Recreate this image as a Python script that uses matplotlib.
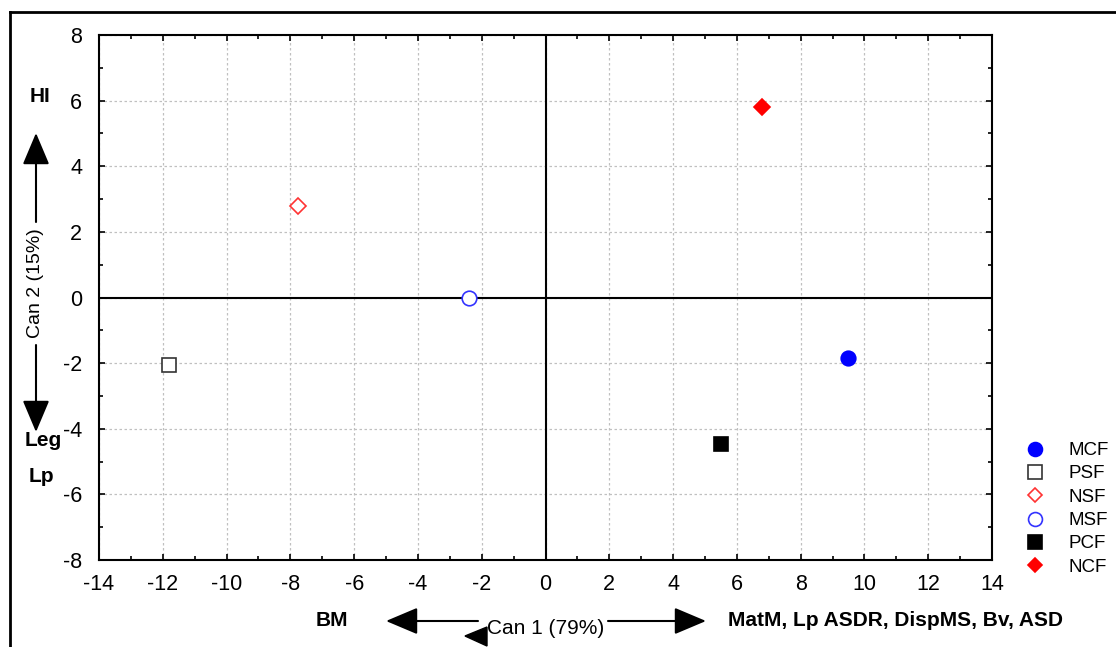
import matplotlib
matplotlib.use("Agg")
import matplotlib.pyplot as plt
from matplotlib.lines import Line2D
from matplotlib.patches import Polygon, FancyArrowPatch

plt.rcParams['font.family'] = ['Liberation Sans', 'DejaVu Sans']
plt.rcParams['axes.unicode_minus'] = False

groups = ["MCF", "PSF", "NSF", "MSF", "PCF", "NCF"]
can1 = [9.5, -11.8, -7.75, -2.4, 5.5, 6.8]
can2 = [-1.85, -2.05, 2.78, 0.0, -4.45, 5.82]
markers = ["o", "s", "D", "o", "s", "D"]
facecolors = ["#0000ff", "white", "white", "white", "black", "#ff0000"]
edgecolors = ["#0000ff", "#333333", "#ff3333", "#3333ff", "black", "#ff0000"]
sizes = [10.5, 10.5, 8, 10.5, 10.5, 8]
xticks = list(range(-14, 15, 2))
yticks = list(range(-8, 9, 2))

W, H = 1116, 647
fig = plt.figure(figsize=(W / 100, H / 100), dpi=100)

def fx(x):
    return x / W

def fy(y):
    return 1 - y / H

ax = fig.add_axes([fx(99), fy(560), fx(992) - fx(99), fy(35) - fy(560)])
ax.set_xlim(-14, 14)
ax.set_ylim(-8, 8)
ax.set_xticks(xticks)
ax.set_yticks(yticks)
ax.set_xticks(range(-14, 15), minor=True)
ax.set_yticks(range(-8, 9), minor=True)
ax.tick_params(which='both', direction='in', top=True, right=True, labelsize=15.5)
ax.tick_params(axis='x', pad=10)
ax.tick_params(axis='y', pad=12)
ax.tick_params(which='major', length=4, width=1.2)
ax.tick_params(which='minor', length=3, width=1.2)
ax.grid(True, which='major', linestyle=(0, (2, 2)), color='#c0c0c0', linewidth=0.9)
for s in ax.spines.values():
    s.set_linewidth(1.5)
ax.axhline(0, color='black', linewidth=1.5, zorder=2)
ax.axvline(0, color='black', linewidth=1.5, zorder=2)

handles = []
for g, x, y, m, fc, ec, ms in zip(groups, can1, can2, markers, facecolors, edgecolors, sizes):
    ax.plot([x], [y], linestyle='none', marker=m, markersize=ms, markerfacecolor=fc,
            markeredgecolor=ec, markeredgewidth=1.2, zorder=5)
    handles.append(Line2D([], [], linestyle='none', marker=m, markersize=ms - 0.5,
                          markerfacecolor=fc, markeredgecolor=ec, markeredgewidth=1.2, label=g))

fig.legend(handles=handles, loc='upper left', bbox_to_anchor=(fx(1024), fy(442)),
           frameon=False, fontsize=13.5, handletextpad=1.2, labelspacing=0.33,
           handlelength=1.2, borderaxespad=0, borderpad=0)

# outer frame lines
fig.add_artist(Line2D([fx(10), 1], [fy(12), fy(12)], color='black', linewidth=2))
fig.add_artist(Line2D([fx(10), fx(10)], [fy(12), 0], color='black', linewidth=2))

bold = dict(fontsize=15, fontweight='bold', ha='center', va='center')
fig.text(fx(40), fy(96), "HI", **bold)
fig.text(fx(43), fy(441), "Leg", **bold)
fig.text(fx(41), fy(477), "Lp", **bold)
fig.text(fx(36), fy(283), "Can 2 (15%)", rotation=90, fontsize=14, ha='center', va='center')
fig.text(fx(332), fy(621), "BM", **bold)
fig.text(fx(546), fy(629), "Can 1 (79%)", fontsize=15, ha='center', va='center')
fig.text(fx(895), fy(621), "MatM, Lp ASDR, DispMS, Bv, ASD", **bold)

arrow = dict(arrowstyle='-|>,head_length=0.9,head_width=0.38', mutation_scale=22,
             lw=1.5, color='black', shrinkA=0, shrinkB=0)
fig.add_artist(FancyArrowPatch((fx(36), fy(222)), (fx(36), fy(133)),
                               transform=fig.transFigure, **arrow))
fig.add_artist(FancyArrowPatch((fx(36), fy(345)), (fx(36), fy(432)),
                               transform=fig.transFigure, **arrow))
fig.add_artist(FancyArrowPatch((fx(478), fy(621)), (fx(386), fy(621)),
                               transform=fig.transFigure, **arrow))
fig.add_artist(FancyArrowPatch((fx(608), fy(621)), (fx(706), fy(621)),
                               transform=fig.transFigure, **arrow))
fig.add_artist(Polygon([[fx(465), fy(636)], [fx(487), fy(627)], [fx(487), fy(646)]],
                       closed=True, transform=fig.transFigure, color='black'))

fig.savefig("out.png", dpi=100)
